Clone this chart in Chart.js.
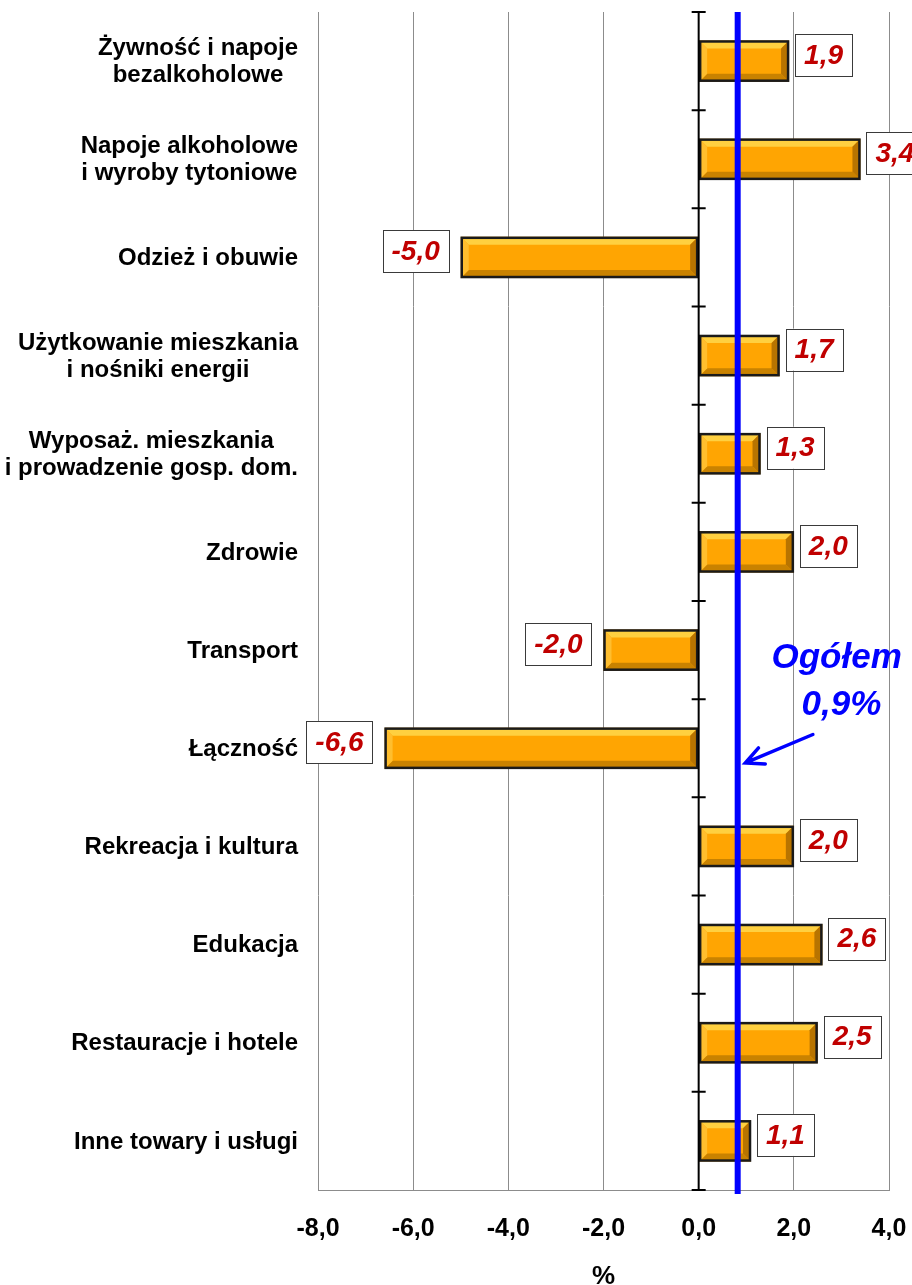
<!DOCTYPE html>
<html>
<head>
<meta charset="utf-8">
<script src="https://cdn.jsdelivr.net/npm/chart.js@4/dist/chart.umd.min.js"></script>
<style>
  html, body { margin: 0; padding: 0; background: #fff; }
  #wrap { width: 912px; height: 1285px; }
</style>
</head>
<body>
<div id="wrap"><canvas id="chart" width="912" height="1285"></canvas></div>
<script>
const categories = [
	["Żywność i napoje", "bezalkoholowe"],
	["Napoje alkoholowe", "i wyroby tytoniowe"],
	"Odzież i obuwie",
	["Użytkowanie mieszkania", "i nośniki energii"],
	["Wyposaż. mieszkania", "i prowadzenie gosp. dom."],
	"Zdrowie",
	"Transport",
	"Łączność",
	"Rekreacja i kultura",
	"Edukacja",
	"Restauracje i hotele",
	"Inne towary i usługi",
];
const values = [1.9, 3.4, -5.0, 1.7, 1.3, 2.0, -2.0, -6.6, 2.0, 2.6, 2.5, 1.1];
const xTicks = [-8, -6, -4, -2, 0, 2, 4];
const overallLine = 0.82; // where the blue line sits in the picture
const overallText = ["Ogółem", "0,9%"];

const FONT = "'Liberation Sans', Arial, sans-serif";
const fmt = (v) => v.toFixed(1).replace(".", ",");

// bevelled look for the bars
const bevelBars = {
	id: "bevelBars",
	afterDatasetsDraw(chart) {
		const ctx = chart.ctx;
		const meta = chart.getDatasetMeta(0);
		meta.data.forEach((bar) => {
			const p = bar.getProps(["x", "y", "base", "height"], true);
			const l = Math.min(p.x, p.base) + 1, r = Math.max(p.x, p.base) - 1;
			const t = p.y - p.height / 2 + 1, b = p.y + p.height / 2 - 1;
			const s = Math.min(7, (r - l) / 2);
			const poly = (pts, col) => {
				ctx.beginPath();
				ctx.moveTo(pts[0][0], pts[0][1]);
				pts.slice(1).forEach((q) => ctx.lineTo(q[0], q[1]));
				ctx.closePath();
				ctx.fillStyle = col;
				ctx.fill();
			};
			ctx.save();
			poly([[l, t], [r, t], [r - s, t + s], [l + s, t + s]], "#FFD040");
			poly([[l, b], [r, b], [r - s, b - s], [l + s, b - s]], "#C98200");
			poly([[l, t], [l + s, t + s], [l + s, b - s], [l, b]], "#FFBE2E");
			poly([[r, t], [r - s, t + s], [r - s, b - s], [r, b]], "#B87400");
			ctx.lineWidth = 2.5;
			ctx.strokeStyle = "#1a1a1a";
			ctx.strokeRect(l, t, r - l, b - t);
			ctx.restore();
		});
	},
};

// category labels, zero axis with ticks, blue overall line, annotation and value boxes
const overlay = {
	id: "overlay",
	afterDatasetsDraw(chart) {
		const ctx = chart.ctx;
		const xs = chart.scales.x, ys = chart.scales.y;
		const area = chart.chartArea;
		const x0 = xs.getPixelForValue(0);
		const step = ys.getPixelForValue(1) - ys.getPixelForValue(0);
		ctx.save();

		// category labels: block right-aligned, lines centred
		ctx.font = "bold 24px " + FONT;
		ctx.fillStyle = "#000";
		ctx.textAlign = "center";
		ctx.textBaseline = "middle";
		const lh = 27;
		const rightEdge = area.left - 20;
		categories.forEach((c, i) => {
			const lines = Array.isArray(c) ? c : [c];
			const w = Math.max(...lines.map((s) => ctx.measureText(s).width));
			const cx = rightEdge - w / 2;
			const cy = ys.getPixelForValue(i) + 1;
			lines.forEach((s, k) => {
				ctx.fillText(s, cx, cy + (k - (lines.length - 1) / 2) * lh);
			});
		});

		// zero axis
		ctx.strokeStyle = "#000";
		ctx.lineWidth = 2;
		ctx.beginPath();
		ctx.moveTo(x0, area.top);
		ctx.lineTo(x0, area.bottom);
		for (let i = 0; i <= categories.length; i++) {
			const y = ys.getPixelForValue(i) - step / 2;
			ctx.moveTo(x0 - 7, y);
			ctx.lineTo(x0 + 7, y);
		}
		ctx.stroke();

		// overall line
		const xb = xs.getPixelForValue(overallLine);
		ctx.strokeStyle = "#0000FF";
		ctx.lineWidth = 6;
		ctx.beginPath();
		ctx.moveTo(xb, area.top);
		ctx.lineTo(xb, area.bottom + 4);
		ctx.stroke();

		// annotation
		ctx.fillStyle = "#0000FF";
		ctx.font = "italic bold 35px " + FONT;
		ctx.textAlign = "center";
		ctx.fillText(overallText[0], xs.getPixelForValue(2.9), ys.getPixelForValue(6.08));
		ctx.fillText(overallText[1], xs.getPixelForValue(3.0), ys.getPixelForValue(6.56));

		const ax1 = xs.getPixelForValue(2.4), ay1 = ys.getPixelForValue(6.86);
		const ax2 = xs.getPixelForValue(0.98), ay2 = ys.getPixelForValue(7.15);
		const ang = Math.atan2(ay2 - ay1, ax2 - ax1);
		ctx.lineWidth = 3.5;
		ctx.lineCap = "round";
		ctx.beginPath();
		ctx.moveTo(ax1, ay1);
		ctx.lineTo(ax2, ay2);
		ctx.moveTo(ax2 + 20 * Math.cos(ang + Math.PI - 0.45), ay2 + 20 * Math.sin(ang + Math.PI - 0.45));
		ctx.lineTo(ax2, ay2);
		ctx.lineTo(ax2 + 20 * Math.cos(ang + Math.PI + 0.45), ay2 + 20 * Math.sin(ang + Math.PI + 0.45));
		ctx.stroke();

		// value boxes
		ctx.font = "italic bold 28px " + FONT;
		ctx.lineCap = "butt";
		const meta = chart.getDatasetMeta(0);
		meta.data.forEach((bar, i) => {
			const v = values[i];
			const txt = fmt(v);
			const w = ctx.measureText(txt).width + 18;
			const h = 42;
			const cy = bar.y - 6;
			const left = v >= 0 ? bar.x + 6 : bar.x - 12 - w;
			ctx.fillStyle = "#fff";
			ctx.fillRect(left, cy - h / 2, w, h);
			ctx.strokeStyle = "#3a3a3a";
			ctx.lineWidth = 1;
			ctx.strokeRect(Math.round(left) + 0.5, Math.round(cy - h / 2) + 0.5, Math.round(w), h);
			ctx.fillStyle = "#C00000";
			ctx.textAlign = "center";
			ctx.fillText(txt, left + w / 2, cy + 1);
		});
		ctx.restore();
	},
};

new Chart(document.getElementById("chart").getContext("2d"), {
	type: "bar",
	data: {
		labels: categories,
		datasets: [
			{
				data: values,
				backgroundColor: "#FFA502",
				borderColor: "#1a1a1a",
				borderWidth: 0,
				barPercentage: 0.42,
				categoryPercentage: 1,
			},
		],
	},
	plugins: [bevelBars, overlay],
	options: {
		indexAxis: "y",
		responsive: false,
		animation: false,
		layout: { padding: { top: 12, right: 23, left: 0, bottom: 0 } },
		plugins: {
			legend: { display: false },
			tooltip: { enabled: false },
		},
		scales: {
			y: {
				grid: { display: false, drawTicks: false },
				border: { display: false },
				ticks: { display: false },
				afterFit: (scale) => {
					scale.width = 318;
					scale.paddingTop = 0;
					scale.paddingBottom = 0;
				},
			},
			x: {
				min: -8,
				max: 4,
				afterBuildTicks: (scale) => { scale.ticks = xTicks.map((v) => ({ value: v })); },
				grid: { color: "#8c8c8c", lineWidth: 1, drawTicks: false },
				border: { color: "#8c8c8c", width: 1 },
				ticks: {
					color: "#000",
					padding: 24,
					maxRotation: 0,
					font: { family: FONT, size: 25, weight: "bold" },
					callback: (v) => fmt(v),
				},
				title: {
					display: true,
					text: "%",
					color: "#000",
					padding: 0,
					font: { family: FONT, size: 26, weight: "bold", lineHeight: 0.6 },
				},
				afterFit: (scale) => {
					scale.height = 95;
					scale.paddingLeft = 0;
					scale.paddingRight = 0;
				},
			},
		},
	},
});
</script>
</body>
</html>
